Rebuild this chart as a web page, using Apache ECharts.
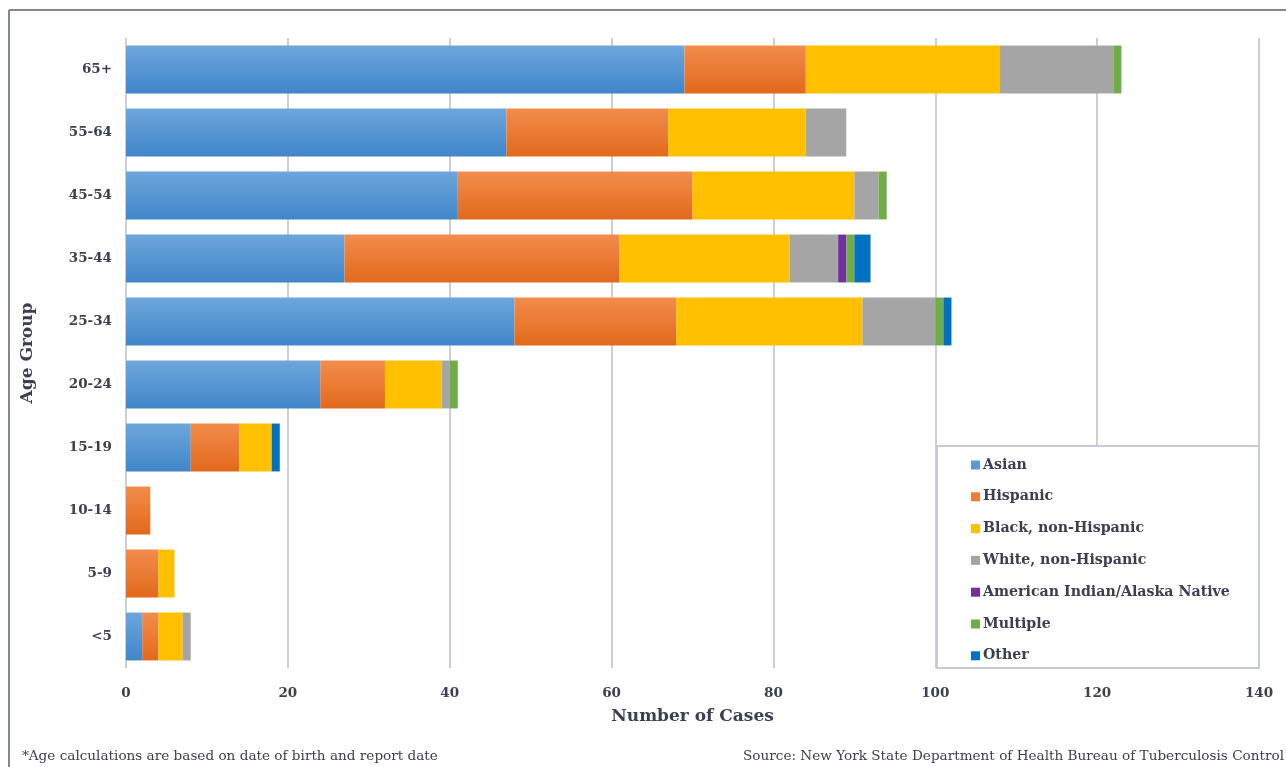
<!DOCTYPE html>
<html>
<head>
<meta charset="utf-8">
<script src="https://cdn.jsdelivr.net/npm/echarts@6/dist/echarts.min.js"></script>
<style>
html,body{margin:0;padding:0;background:#fff;}
#chart{width:1286px;height:767px;}
</style>
</head>
<body>
<div id="chart"></div>
<script>
const categories = ['<5','5-9','10-14','15-19','20-24','25-34','35-44','45-54','55-64','65+'];
const asian    = [2, 0, 0, 8, 24, 48, 27, 41, 47, 69];
const hispanic = [2, 4, 3, 6, 8, 20, 34, 29, 20, 15];
const black    = [3, 2, 0, 4, 7, 23, 21, 20, 17, 24];
const white    = [1, 0, 0, 0, 1, 9, 6, 3, 5, 14];
const aian     = [0, 0, 0, 0, 0, 0, 1, 0, 0, 0];
const multiple = [0, 0, 0, 0, 1, 1, 1, 1, 0, 1];
const other    = [0, 0, 0, 1, 0, 1, 2, 0, 0, 0];
const xTicks = [0, 20, 40, 60, 80, 100, 120, 140];

const FONT = '"DejaVu Serif", "Liberation Serif", serif';
const TXT = '#3b4050';
function grad(top, bottom){
  return new echarts.graphic.LinearGradient(0,0,0,1,[{offset:0,color:top},{offset:1,color:bottom}]);
}
const seriesDefs = [
  ['Asian', asian, grad('#6ea6dc','#3f86c9'), '#5b9bd5'],
  ['Hispanic', hispanic, grad('#f28c4c','#e2691c'), '#ed7d31'],
  ['Black, non-Hispanic', black, '#ffc000', '#ffc000'],
  ['White, non-Hispanic', white, '#a5a5a5', '#a5a5a5'],
  ['American Indian/Alaska Native', aian, '#7030a0', '#7030a0'],
  ['Multiple', multiple, '#70ad47', '#70ad47'],
  ['Other', other, '#0070c0', '#0070c0']
];
const chart = echarts.init(document.getElementById('chart'), null, {renderer:'canvas'});
chart.setOption({
  animation:false,
  backgroundColor:'#fff',
  textStyle:{fontFamily:FONT},
  grid:{left:126, right:27, top:38, bottom:99, containLabel:false},
  xAxis:{
    type:'value', min:0, max:140, interval:20,
    name:'Number of Cases', nameLocation:'middle', nameGap:40,
    nameTextStyle:{fontFamily:FONT, fontSize:17, fontWeight:'bold', color:TXT},
    axisLine:{show:false}, axisTick:{show:false},
    axisLabel:{fontFamily:FONT, fontSize:13.5, fontWeight:'bold', color:TXT, margin:18},
    splitLine:{show:true, lineStyle:{color:'#c9d0dc', width:2}}
  },
  yAxis:{
    type:'category', data:categories,
    name:'Age Group', nameLocation:'middle', nameGap:90, nameRotate:90,
    nameTextStyle:{fontFamily:FONT, fontSize:17, fontWeight:'bold', color:TXT},
    axisLine:{show:false}, axisTick:{show:false},
    axisLabel:{fontFamily:FONT, fontSize:13.5, fontWeight:'bold', color:TXT, margin:14},
    splitLine:{show:false}
  },
  legend:{
    orient:'vertical', left:966, top:453, z:10,
    itemWidth:9, itemHeight:9, itemGap:17.8, icon:'rect',
    textStyle:{fontFamily:FONT, fontSize:14.2, fontWeight:'bold', color:TXT, padding:[0,0,0,-2]},
    data:seriesDefs.map(d=>({name:d[0], itemStyle:{color:d[3]}}))
  },
  graphic:[
    {type:'rect', z:5, shape:{x:937, y:446, width:322, height:222}, style:{fill:'#fff', stroke:'#c3cad8', lineWidth:2}},
    {type:'line', z:5, shape:{x1:9, y1:10, x2:1286, y2:10}, style:{stroke:'#7f8898', lineWidth:2}},
    {type:'line', z:5, shape:{x1:9, y1:10, x2:9, y2:767}, style:{stroke:'#7f8898', lineWidth:2}},
    {type:'text', z:5, left:22, top:749, style:{text:'*Age calculations are based on date of birth and report date', font:'13.6px '+FONT, fill:TXT}},
    {type:'text', z:5, right:2, top:749, style:{text:'Source: New York State Department of Health Bureau of Tuberculosis Control', font:'13.6px '+FONT, fill:TXT}}
  ],
  series:seriesDefs.map(d=>({
    name:d[0], type:'bar', stack:'total', data:d[1],
    barCategoryGap:'24%',
    itemStyle:{color:d[2]}
  }))
});
</script>
</body>
</html>
